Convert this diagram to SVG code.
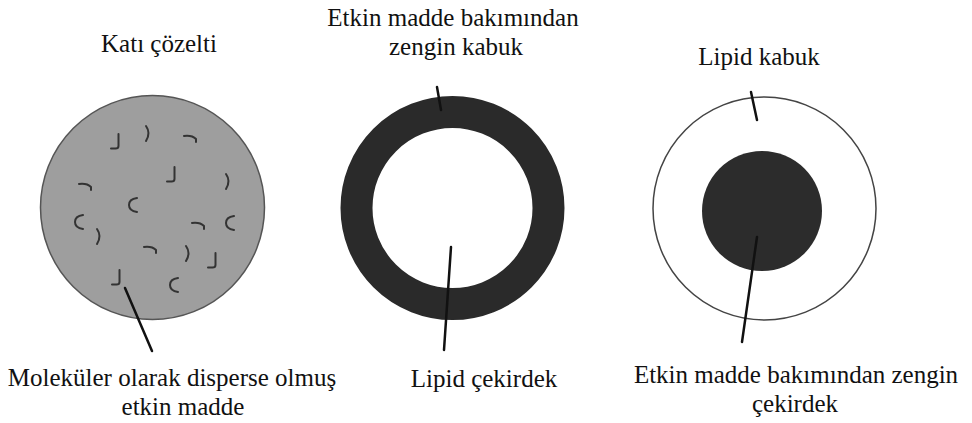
<svg xmlns="http://www.w3.org/2000/svg" xmlns:xlink="http://www.w3.org/1999/xlink" width="972" height="423" viewBox="0 0 972 423" font-family="'Liberation Serif', 'Times New Roman', serif">
<style>
text{font-family:'Liberation Serif','Times New Roman',serif;font-size:25px;fill:#111;text-anchor:middle}
.lead{stroke:#111;stroke-width:2.5;fill:none;stroke-linecap:round}
.sq{stroke:#333;stroke-width:2;fill:none;stroke-linecap:round;stroke-linejoin:round}
</style>
<defs>
<path id="hk" d="M1.5,-9 L1.5,3 Q1.5,5.5 -1.5,5.5 L-6,5.5"/>
<path id="pr" d="M-1,-8 Q4,-1 -1,7"/>
<path id="nt" d="M-7,-3 Q1,-4 5,0 L5,3"/>
<path id="cc" d="M4,-7 Q-4,-6 -4,0 Q-4,6 4,7"/>
</defs>
<rect width="972" height="423" fill="#fff"/>
<g id="solid-solution">
<circle cx="152.5" cy="207.5" r="112" fill="#9e9e9e" stroke="#555" stroke-width="1.5"/>
<g class="sq">
<use xlink:href="#hk" x="117" y="143"/>
<use xlink:href="#pr" x="147" y="134"/>
<use xlink:href="#nt" x="191" y="139"/>
<use xlink:href="#hk" x="173" y="176"/>
<use xlink:href="#pr" x="227" y="182"/>
<use xlink:href="#nt" x="86" y="187"/>
<use xlink:href="#cc" x="133" y="205"/>
<use xlink:href="#cc" x="79" y="222"/>
<use xlink:href="#pr" x="98" y="237"/>
<use xlink:href="#nt" x="199" y="226"/>
<use xlink:href="#cc" x="230" y="223"/>
<use xlink:href="#nt" x="151" y="250"/>
<use xlink:href="#pr" x="187" y="254"/>
<use xlink:href="#hk" x="214" y="262"/>
<use xlink:href="#hk" x="118" y="279"/>
<use xlink:href="#cc" x="174" y="285"/>
</g>
<text x="159" y="52">Katı çözelti</text>
<text x="172" y="386">Moleküler olarak disperse olmuş</text>
<text x="183" y="415">etkin madde</text>
</g>
<g id="shell-rich">
<circle cx="452.5" cy="208" r="96" fill="none" stroke="#2a2a2a" stroke-width="32"/>
<text x="453" y="26">Etkin madde bakımından</text>
<text x="456" y="55">zengin kabuk</text>
<text x="484" y="387">Lipid çekirdek</text>
</g>
<g id="core-rich">
<circle cx="764.5" cy="208.5" r="111.5" fill="none" stroke="#444" stroke-width="1.5"/>
<circle cx="762" cy="211" r="60" fill="#2c2c2c"/>
<text x="759" y="65">Lipid kabuk</text>
<text x="796" y="383">Etkin madde bakımından zengin</text>
<text x="795" y="412">çekirdek</text>
</g>
<g id="connectors">
<line class="lead" x1="125" y1="288" x2="152" y2="351"/>
<line class="lead" x1="437" y1="87" x2="441" y2="110"/>
<line class="lead" x1="451" y1="247" x2="444" y2="350"/>
<line class="lead" x1="751" y1="92" x2="757" y2="120"/>
<line class="lead" x1="757" y1="237" x2="742" y2="342"/>
</g>
</svg>
